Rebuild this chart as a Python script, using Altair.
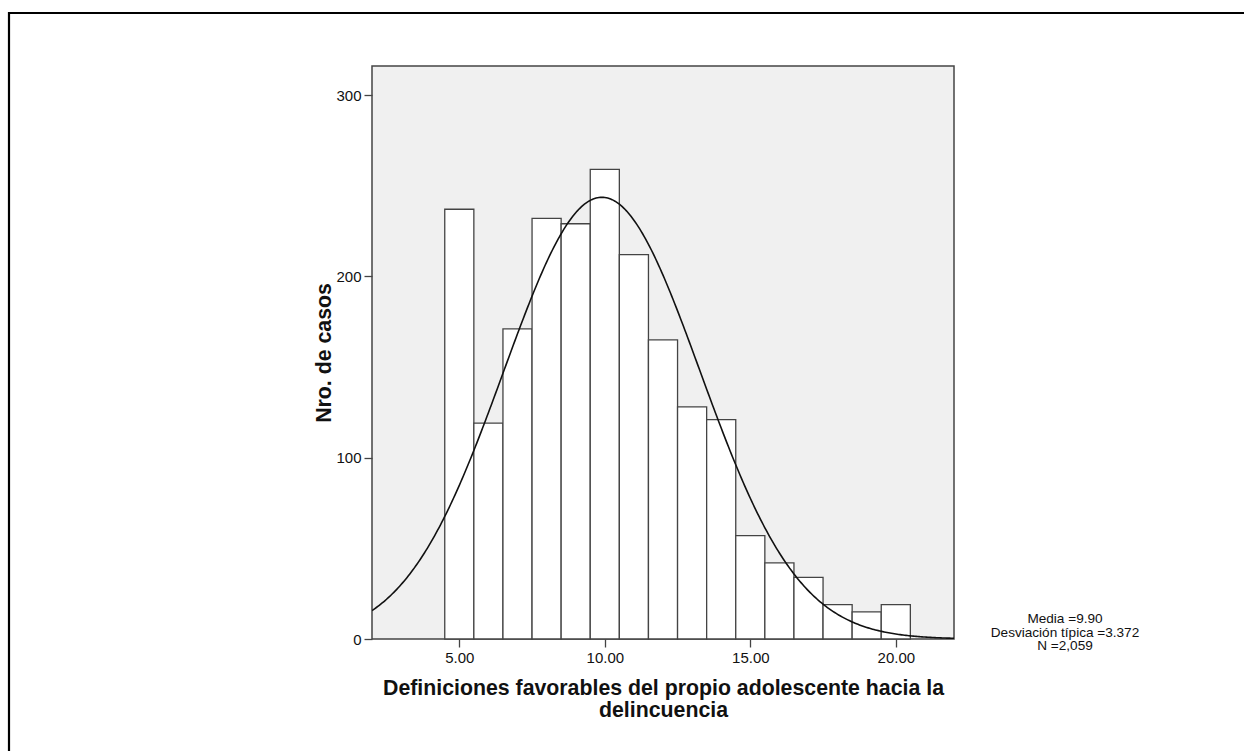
import altair as alt
import numpy as np
import pandas as pd

# ---- data ----
scores = [5, 6, 7, 8, 9, 10, 11, 12, 13, 14, 15, 16, 17, 18, 19, 20]
counts = [237, 119, 171, 232, 229, 259, 212, 165, 128, 121, 57, 42, 34, 19, 15, 19]
mean_val = 9.90
sd_val = 3.372
n_val = 2059
x_ticks = [5, 10, 15, 20]
y_ticks = [0, 100, 200, 300]
stats_lines = ["Media =9.90", "Desviación típica =3.372", "N =2,059"]
x_title = ["Definiciones favorables del propio adolescente hacia la", "delincuencia"]
y_title = "Nro. de casos"

bars = pd.DataFrame({"score": scores, "count": counts})
bars["x0"] = bars["score"] - 0.5
bars["x1"] = bars["score"] + 0.5

# fitted normal curve (from the mean, sd and N stated on the chart)
xs = np.linspace(2, 22, 401)
ys = n_val * 1.0 / (sd_val * np.sqrt(2 * np.pi)) * np.exp(-0.5 * ((xs - mean_val) / sd_val) ** 2)
curve = pd.DataFrame({"x": xs, "y": ys})

FONT = "Liberation Sans"
xscale = alt.Scale(domain=[2, 22], nice=False, zero=False)
yscale = alt.Scale(domain=[0, 316], nice=False)

bar_layer = alt.Chart(bars).mark_rect(
    fill="white", stroke="#444444", strokeWidth=1.3
).encode(
    x=alt.X("x0:Q", scale=xscale,
            axis=alt.Axis(values=x_ticks, format=".2f", title=x_title,
                          tickSize=8, labelPadding=3, titlePadding=12,
                          domain=False, grid=False)),
    x2="x1:Q",
    y=alt.Y("count:Q", scale=yscale,
            axis=alt.Axis(values=y_ticks, title=y_title,
                          tickSize=8, labelPadding=3, titlePadding=1,
                          domain=False, grid=False)),
    y2=alt.datum(0),
)

curve_layer = alt.Chart(curve).mark_line(
    color="#111111", strokeWidth=1.6, clip=True
).encode(
    x=alt.X("x:Q", scale=xscale),
    y=alt.Y("y:Q", scale=yscale),
)

stats_layer = alt.Chart(pd.DataFrame({"a": [0]})).mark_text(
    text=stats_lines, font=FONT, fontSize=13.6, lineHeight=13.6,
    align="center", baseline="top", color="#111111"
).encode(
    x=alt.value(693),
    y=alt.value(546),
)

one = pd.DataFrame({"a": [0]})
frame_top = alt.Chart(one).mark_rule(color="black", strokeWidth=2.2).encode(
    x=alt.value(-363), x2=alt.value(872), y=alt.value(-53)
)
frame_left = alt.Chart(one).mark_rule(color="black", strokeWidth=2.2).encode(
    x=alt.value(-363), y=alt.value(-54), y2=alt.value(685)
)

chart = alt.layer(frame_top, frame_left, bar_layer, curve_layer, stats_layer).properties(
    width=582,
    height=573,
    autosize=alt.AutoSizeParams(type="none"),
    padding={"left": 372, "top": 66, "right": 290, "bottom": 112},
    background="white",
).configure_view(
    fill="#f0f0f0", stroke="#444444", strokeWidth=1.5
).configure_axis(
    labelFont=FONT, labelFontSize=15, labelColor="#111111",
    titleFont=FONT, titleFontSize=21.3, titleFontWeight="bold", titleColor="#111111",
    titleLineHeight=22, tickColor="#444444", tickWidth=1.3,
)

chart.save("out.html", embed_options={"renderer": "svg", "actions": False})
